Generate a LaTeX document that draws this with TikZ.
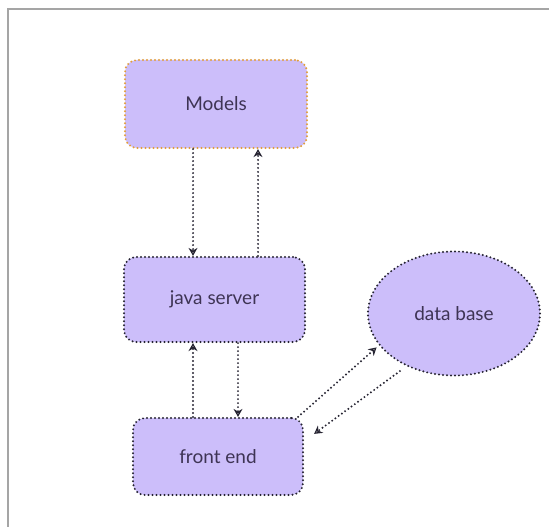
\documentclass[tikz,border=0pt]{standalone}
\usepackage{fontspec}
\setmainfont{Lato}
\usepackage{tikz}
\usetikzlibrary{calc,shapes.geometric,arrows.meta,positioning}
\definecolor{lav}{RGB}{204,190,250}
\definecolor{ink}{RGB}{38,36,50}
\definecolor{txt}{RGB}{62,52,84}
\definecolor{amber}{RGB}{226,158,58}
\definecolor{frame}{RGB}{165,165,165}
\tikzstyle{dots} = [line width=2.2pt, line cap=round, dash pattern=on 0pt off 4pt]
\tikzstyle{block} = [rectangle, rounded corners=12pt, fill=lav, draw=ink, dots, text=txt, font=\fontsize{19}{22}\selectfont]
\tikzstyle{store} = [ellipse, fill=lav, draw=ink, dots, text=txt, font=\fontsize{19}{22}\selectfont]
\tikzstyle{connector} = [draw=ink, dots, -{Stealth[open,length=8pt,width=9pt,line width=1.3pt]}]

\begin{document}
\begin{tikzpicture}[x=1pt,y=-1pt]
    \useasboundingbox (0,0) rectangle (549,527);
    \draw [frame, line width=1.5pt] (8,527) -- (8,9) -- (549,9);
    \node (models) [block, draw=amber, minimum width=182pt, minimum height=88pt] at (216,104) {Models};
    \node (server) [block, minimum width=181pt, minimum height=85pt] at (214.5,299.5) {java server};
    \node (front) [block, minimum width=170pt, minimum height=77pt] at (218,456.5) {front end};
    \node (db) [store, minimum width=172pt, minimum height=124pt] at (454,313.5) {data base};
    \draw [connector] ([xshift=-23pt]models.south) -- ([xshift=-21.5pt]server.north);
    \draw [connector] ([xshift=43.5pt]server.north) -- ([xshift=42pt]models.south);
    \draw [connector] ([xshift=-21.5pt]front.north -| server.south) -- ([xshift=-21.5pt]server.south);
    \draw [connector] ([xshift=23.5pt]server.south) -- ([xshift=20pt]front.north);
    \draw [connector, shorten >=3pt] ([xshift=-6pt]front.north east) -- (db.203);
    \draw [connector, shorten <=8pt] (db.228) -- ([shift={(10,17)}]front.north east);
\end{tikzpicture}
\end{document}
